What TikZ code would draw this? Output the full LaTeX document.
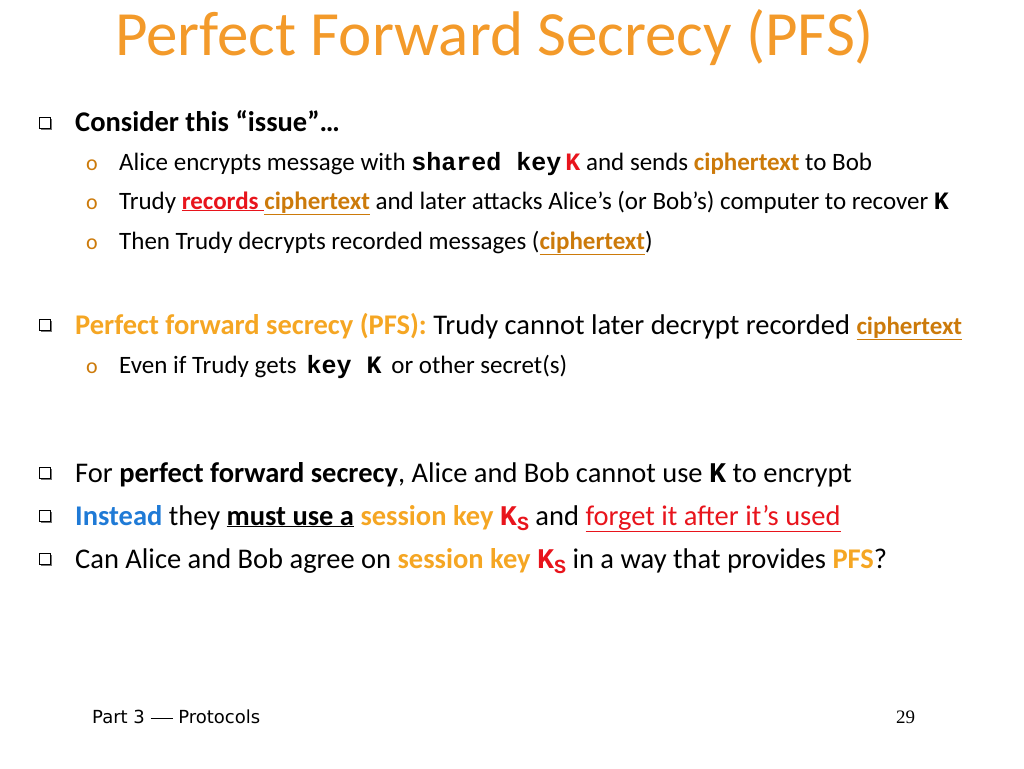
\documentclass[tikz,border=0pt]{standalone}
\usepackage{fontspec}
\setmainfont{Carlito}
\newfontfamily\mymono{Liberation Mono}
\newfontfamily\serifpn{Liberation Serif}
\newfontfamily\foot{DejaVu Sans}
\newcommand\myul[1]{\underline{#1}}
\newcommand\mk[1]{{\mymono\bfseries #1}}
\definecolor{ttl}{HTML}{F39A2A}
\definecolor{ct}{HTML}{CC7A0A}
\definecolor{sk}{HTML}{F5A623}
\definecolor{rd}{HTML}{E8141C}
\definecolor{bl}{HTML}{1F7AD6}
\begin{document}
\begin{tikzpicture}[x=1pt,y=-1pt,
  txt/.style={anchor=base west,inner sep=0pt,font=\fontsize{25}{29}\selectfont},
  big/.style={anchor=base west,inner sep=0pt,font=\fontsize{28.5}{32}\selectfont},
  sub/.style={anchor=base west,inner sep=0pt,text=ct,font=\fontsize{22}{26}\selectfont}]
\useasboundingbox (0,0) rectangle (1024,768);
\newcommand\qb[2]{\draw[fill=black!55,draw=none] (#1+2,#2+2) rectangle (#1+13,#2+13);
  \draw[fill=white,line width=0.8pt] (#1,#2) rectangle (#1+11,#2+11);}
\node[anchor=base west,inner sep=0pt,text=ttl,font=\fontsize{63}{70}\selectfont] (title) at (115,56) {Perfect Forward Secrecy (PFS)};
\qb{39}{117}
\node[big] (l1) at (75,131) {\textbf{Consider this “issue”…}};
\node[sub] (o1) at (86,170) {o};
\node[txt] (l2) at (119,170) {Alice encrypts message with \mk{shared key}\,\textcolor{rd}{\mk{K}} and sends \textcolor{ct}{\textbf{ciphertext}} to Bob};
\node[sub] (o2) at (86,209) {o};
\node[txt] (l3) at (119,209) {Trudy \textcolor{rd}{\myul{\textbf{records\ }}}\textcolor{ct}{\myul{\textbf{ciphertext}}} and later attacks Alice’s (or Bob’s) computer to recover \mk{K}};
\node[sub] (o3) at (86,249) {o};
\node[txt] (l4) at (119,249) {Then Trudy decrypts recorded messages (\textcolor{ct}{\myul{\textbf{ciphertext}}})};
\qb{39}{319}
\node[big] (l5) at (75,334) {\textcolor{sk}{\textbf{Perfect forward secrecy (PFS):}} Trudy cannot later decrypt recorded \textcolor{ct}{\myul{\textbf{\fontsize{25}{29}\selectfont ciphertext}}}};
\node[sub] (o4) at (86,373) {o};
\node[txt] (l6) at (119,373) {Even if Trudy gets \,\mk{key K}\, or other secret(s)};
\qb{39}{467}
\node[big] (l7) at (75,482) {For \textbf{perfect forward secrecy}, Alice and Bob cannot use \mk{K} to encrypt};
\qb{39}{510}
\node[big] (l8) at (75,525) {\textcolor{bl}{\textbf{Instead}} they \myul{\textbf{must use a}} \textcolor{sk}{\textbf{session key}} \textcolor{rd}{\mk{K}\raisebox{-5pt}{\fontsize{20}{22}\selectfont\mk{S}}} and \textcolor{rd}{\myul{forget it after it’s used}}};
\qb{39}{553}
\node[big] (l9) at (75,568) {Can Alice and Bob agree on \textcolor{sk}{\textbf{session key}} \textcolor{rd}{\mk{K}\raisebox{-5pt}{\fontsize{20}{22}\selectfont\mk{S}}} in a way that provides \textcolor{sk}{\textbf{PFS}}?};
\node[anchor=base west,inner sep=0pt,font=\foot\fontsize{18}{20}\selectfont] (ft) at (92,723) {Part 3 \rule[4pt]{22pt}{0.6pt} Protocols};
\node[anchor=base west,inner sep=0pt,font=\serifpn\fontsize{19}{20}\selectfont] (pn) at (896,723) {29};
\end{tikzpicture}
\end{document}
